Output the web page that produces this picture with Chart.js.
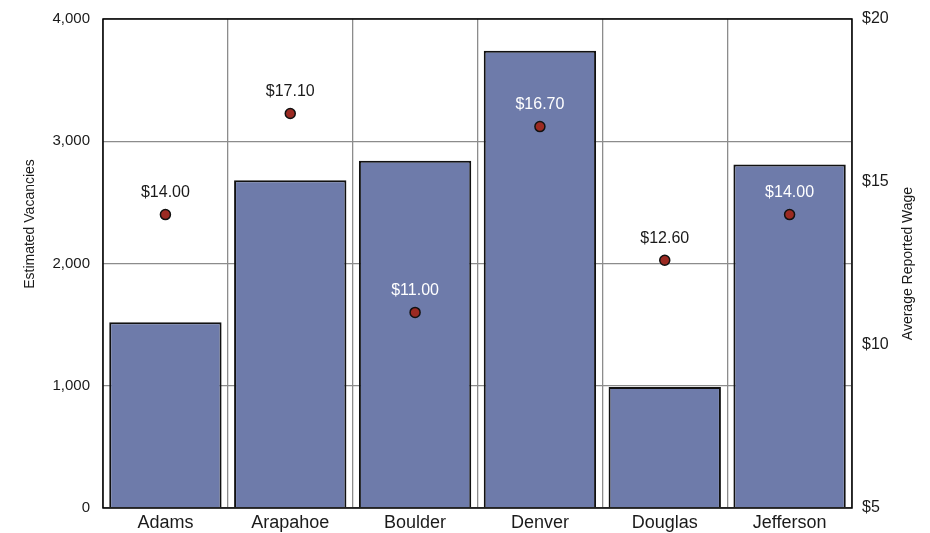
<!DOCTYPE html>
<html>
<head>
<meta charset="utf-8">
<script src="https://cdn.jsdelivr.net/npm/chart.js@4"></script>
<style>
  html, body { margin: 0; padding: 0; background: #fff; }
  #wrap { width: 930px; height: 533px; }
</style>
</head>
<body>
<div id="wrap"><canvas id="grafico"></canvas></div>
<script>
// Datos del gráfico
const condados = ['Adams', 'Arapahoe', 'Boulder', 'Denver', 'Douglas', 'Jefferson'];
const vacantes = [1520, 2680, 2840, 3740, 990, 2810];
const salarios = [14.00, 17.10, 11.00, 16.70, 12.60, 14.00];

const FUENTE = '"Liberation Sans", Arial, sans-serif';
const COLOR_BARRA = '#6E7BAA';
const COLOR_TEXTO = '#1a1a1a';

// Etiquetas de salario encima de cada punto (blancas si caen dentro de la barra)
const etiquetasSalario = {
  id: 'etiquetasSalario',
  afterDatasetsDraw(chart) {
    const ctx = chart.ctx;
    const puntos = chart.getDatasetMeta(0).data;
    const barras = chart.getDatasetMeta(1).data;
    ctx.save();
    ctx.font = '16px ' + FUENTE;
    ctx.textAlign = 'center';
    ctx.textBaseline = 'middle';
    puntos.forEach((p, i) => {
      const dentro = barras[i] && p.y > barras[i].y;
      ctx.fillStyle = dentro ? '#ffffff' : COLOR_TEXTO;
      ctx.fillText('$' + salarios[i].toFixed(2), p.x, p.y - 22);
    });
    ctx.restore();
  }
};

// Títulos de los ejes, ambos leídos de abajo hacia arriba
const titulosEjes = {
  id: 'titulosEjes',
  afterDraw(chart) {
    const ctx = chart.ctx;
    const area = chart.chartArea;
    const dibujar = (texto, x, y) => {
      ctx.save();
      ctx.translate(x, y);
      ctx.rotate(-Math.PI / 2);
      ctx.fillText(texto, 0, 0);
      ctx.restore();
    };
    ctx.save();
    ctx.font = '14px ' + FUENTE;
    ctx.fillStyle = COLOR_TEXTO;
    ctx.textAlign = 'center';
    ctx.textBaseline = 'middle';
    dibujar('Estimated Vacancies', 30, 224);
    dibujar('Average Reported Wage', 908, (area.top + area.bottom) / 2);
    ctx.restore();
  }
};

// Borde del área de trazado
const bordeArea = {
  id: 'bordeArea',
  afterDatasetsDraw(chart) {
    const { ctx, chartArea: a } = chart;
    ctx.save();
    ctx.strokeStyle = '#000';
    ctx.lineWidth = 1.5;
    ctx.strokeRect(a.left, a.top, a.right - a.left, a.bottom - a.top);
    ctx.restore();
  }
};

new Chart(document.getElementById('grafico'), {
  data: {
    labels: condados,
    datasets: [
      {
        type: 'line',
        label: 'Average Reported Wage',
        data: salarios,
        yAxisID: 'y1',
        showLine: false,
        pointRadius: 5,
        pointBackgroundColor: '#9B2A22',
        pointBorderColor: '#111',
        pointBorderWidth: 1.5,
        order: 1
      },
      {
        type: 'bar',
        label: 'Estimated Vacancies',
        data: vacantes,
        yAxisID: 'y',
        backgroundColor: COLOR_BARRA,
        borderColor: '#111',
        borderWidth: 2,
        barPercentage: 0.9,
        categoryPercentage: 1,
        order: 2
      }
    ]
  },
  options: {
    responsive: true,
    maintainAspectRatio: false,
    animation: false,
    layout: { padding: { top: 19, bottom: 0, left: 0, right: 0 } },
    plugins: {
      legend: { display: false },
      tooltip: { enabled: false }
    },
    scales: {
      x: {
        offset: true,
        grid: { offset: true, color: '#8c8c8c', lineWidth: 1.3, drawTicks: false },
        border: { display: false },
        ticks: { color: COLOR_TEXTO, font: { family: FUENTE, size: 18 }, padding: 4, maxRotation: 0 },
        afterFit(scale) { scale.height = 25; }
      },
      y: {
        position: 'left',
        min: 0,
        max: 4000,
        ticks: {
          stepSize: 1000,
          color: COLOR_TEXTO,
          font: { family: FUENTE, size: 15 },
          padding: 13,
          callback: v => v.toLocaleString('en-US')
        },
        grid: { color: '#8c8c8c', lineWidth: 1.3, drawTicks: false },
        border: { display: false },
        afterFit(scale) {
          scale.width = 103;
          scale.paddingTop = 0;
          scale.paddingBottom = 0;
        }
      },
      y1: {
        position: 'right',
        min: 5,
        max: 20,
        ticks: {
          stepSize: 5,
          color: COLOR_TEXTO,
          font: { family: FUENTE, size: 16 },
          padding: 10,
          callback: v => '$' + v
        },
        grid: { display: false, drawTicks: false },
        border: { display: false },
        afterFit(scale) {
          scale.width = 78;
          scale.paddingTop = 0;
          scale.paddingBottom = 0;
        }
      }
    }
  },
  plugins: [etiquetasSalario, titulosEjes, bordeArea]
});
</script>
</body>
</html>
